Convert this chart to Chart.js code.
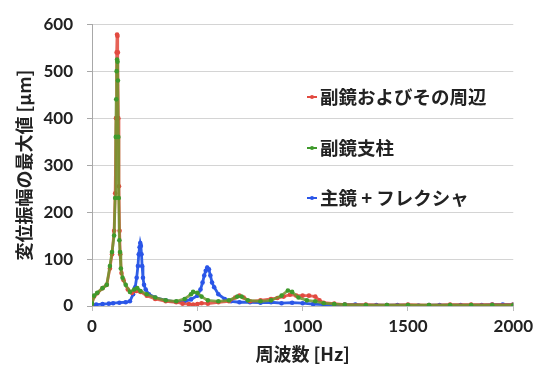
<!DOCTYPE html>
<html>
<head>
<meta charset="utf-8">
<script src="https://cdn.jsdelivr.net/npm/chart.js@4"></script>
<style>
  html, body { margin: 0; padding: 0; background: #fff; }
  #wrap { width: 538px; height: 367px; position: relative; }
</style>
</head>
<body>
<div id="wrap"><canvas id="c" width="538" height="367"></canvas></div>
<script>
// Series labels
const seriesNames = ['副鏡およびその周辺', '副鏡支柱', '主鏡 + フレクシャ'];

// Secondary mirror and surroundings: frequency [Hz] / max displacement [μm]
const redFreq = [0, 10, 25, 50, 70, 85, 95, 105, 110, 114, 117, 119, 121, 123, 125, 128, 131, 134, 140, 150, 170, 190, 210, 230, 260, 300, 350, 400, 430, 460, 480, 500, 520, 550, 600, 650, 680, 700, 720, 750, 800, 850, 880, 910, 940, 970, 1000, 1030, 1060, 1080, 1100, 1150, 1200, 1300, 1400, 1500, 1600, 1700, 1800, 1900, 2000];
const redAmp  = [5, 20, 27, 38, 45, 80, 110, 160, 240, 400, 540, 578, 575, 540, 400, 255, 160, 110, 70, 55, 35, 28, 32, 30, 22, 15, 10, 8, 5, 4, 3, 4, 6, 5, 8, 10, 18, 22, 18, 10, 12, 15, 17, 20, 24, 22, 22, 22, 20, 12, 7, 5, 3, 3, 2, 3, 2, 3, 3, 3, 3];

// Secondary mirror struts
const greenFreq = [0, 10, 25, 50, 70, 85, 95, 105, 110, 113, 115, 117, 119, 121, 123, 125, 127, 130, 133, 137, 145, 160, 180, 200, 215, 230, 260, 300, 350, 400, 440, 470, 480, 500, 520, 550, 600, 650, 690, 710, 740, 800, 850, 900, 930, 950, 980, 1020, 1060, 1100, 1150, 1200, 1300, 1400, 1500, 1600, 1700, 1800, 1900, 2000];
const greenAmp  = [5, 22, 28, 38, 45, 85, 115, 150, 230, 360, 440, 500, 525, 520, 480, 360, 230, 140, 115, 80, 60, 45, 30, 35, 38, 32, 25, 18, 12, 10, 15, 25, 30, 28, 20, 12, 10, 12, 20, 20, 12, 10, 12, 22, 33, 30, 18, 12, 10, 6, 4, 3, 2, 2, 2, 2, 2, 2, 2, 2];

// Primary mirror + flexures
const blueFreq = [0, 20, 50, 80, 100, 130, 160, 180, 195, 205, 212, 218, 222, 226, 229, 232, 235, 238, 242, 247, 255, 270, 300, 350, 400, 440, 470, 500, 515, 525, 533, 540, 547, 555, 562, 570, 580, 600, 630, 660, 700, 750, 800, 850, 900, 950, 1000, 1050, 1100, 1150, 1200, 1250, 1300, 1350, 1400, 1450, 1500, 1550, 1600, 1650, 1700, 1750, 1800, 1850, 1900, 1950, 2000];
const blueAmp  = [2, 3, 4, 5, 6, 7, 8, 10, 25, 40, 60, 85, 110, 125, 134, 128, 110, 85, 60, 45, 35, 25, 18, 12, 9, 10, 14, 22, 35, 50, 65, 75, 82, 78, 65, 50, 40, 25, 15, 10, 8, 8, 7, 8, 6, 7, 6, 4, 3, 3, 3, 3, 2, 2, 2, 2, 2, 1, 2, 2, 2, 2, 2, 2, 3, 3, 3];

// Axis ticks
const xTicks = [0, 500, 1000, 1500, 2000];
const yTicks = [0, 100, 200, 300, 400, 500, 600];

const toPoints = (xs, ys) => xs.map((x, i) => ({ x: x, y: ys[i] }));

const colors = [
  { line: 'rgba(226,70,58,0.85)', dot: '#e24a40' },
  { line: 'rgba(110,150,45,0.85)', dot: '#3f9a2c' },
  { line: '#2f5ee6', dot: '#2a55e8' }
];

function makeSet(i, xs, ys) {
  return {
    label: seriesNames[i],
    data: toPoints(xs, ys),
    showLine: true,
    borderColor: colors[i].line,
    backgroundColor: colors[i].dot,
    borderWidth: 2.8,
    pointRadius: 2.3,
    pointBorderWidth: 0,
    pointBackgroundColor: colors[i].dot,
    tension: 0
  };
}

// Legend drawn inside the plot area, one row per series
const innerLegend = {
  id: 'innerLegend',
  afterDatasetsDraw(chart) {
    const ctx = chart.ctx;
    const rows = [97, 148, 198];
    ctx.save();
    seriesNames.forEach((name, i) => {
      const y = rows[i];
      ctx.strokeStyle = colors[i].dot;
      ctx.lineWidth = 2;
      ctx.beginPath();
      ctx.moveTo(307, y);
      ctx.lineTo(317, y);
      ctx.stroke();
      ctx.fillStyle = colors[i].dot;
      ctx.beginPath();
      ctx.arc(312, y, 2, 0, Math.PI * 2);
      ctx.fill();
      ctx.fillStyle = '#222';
      ctx.font = 'bold 18.5px "Noto Sans CJK JP"';
      ctx.textBaseline = 'middle';
      ctx.textAlign = 'left';
      ctx.fillText(name, 320, y);
    });
    ctx.restore();
  }
};

const tickFont = { family: 'Lato', size: 17, weight: 'bold' };

new Chart(document.getElementById('c'), {
  type: 'scatter',
  data: {
    datasets: [
      makeSet(1, greenFreq, greenAmp),
      makeSet(0, redFreq, redAmp),
      makeSet(2, blueFreq, blueAmp)
    ]
  },
  options: {
    responsive: false,
    animation: false,
    layout: { padding: { top: 19, right: 18, left: 0, bottom: 0 } },
    plugins: {
      legend: { display: false },
      tooltip: { enabled: false }
    },
    scales: {
      x: {
        type: 'linear',
        min: 0,
        max: 2000,
        afterBuildTicks: (s) => { s.ticks = xTicks.map(v => ({ value: v })); },
        afterFit: (s) => { s.height = 61; },
        border: { color: '#bdbdbd', width: 1 },
        grid: { drawOnChartArea: false, drawTicks: true, tickLength: 5, color: '#bdbdbd' },
        ticks: { font: tickFont, color: '#222', padding: 5, maxRotation: 0, callback: (v) => String(v) },
        title: {
          display: true,
          text: '周波数 [Hz]',
          font: { family: '"Noto Sans CJK JP"', size: 18, weight: 'bold' },
          color: '#222',
          padding: { top: 0, bottom: 2 }
        }
      },
      y: {
        min: 0,
        max: 600,
        afterBuildTicks: (s) => { s.ticks = yTicks.map(v => ({ value: v })); },
        afterFit: (s) => { s.width = 92; },
        border: { color: '#a8a8a8', width: 1 },
        grid: { color: '#d4d4d4', lineWidth: 1, tickLength: 5, tickColor: '#a8a8a8' },
        ticks: { font: tickFont, color: '#222', padding: 14, callback: (v) => String(v) },
        title: {
          display: true,
          text: '変位振幅の最大値 [μm]',
          font: { family: '"Noto Sans CJK JP"', size: 18, weight: 'bold' },
          color: '#222',
          padding: { top: 13, bottom: 0 }
        }
      }
    }
  },
  plugins: [innerLegend]
});
</script>
</body>
</html>
